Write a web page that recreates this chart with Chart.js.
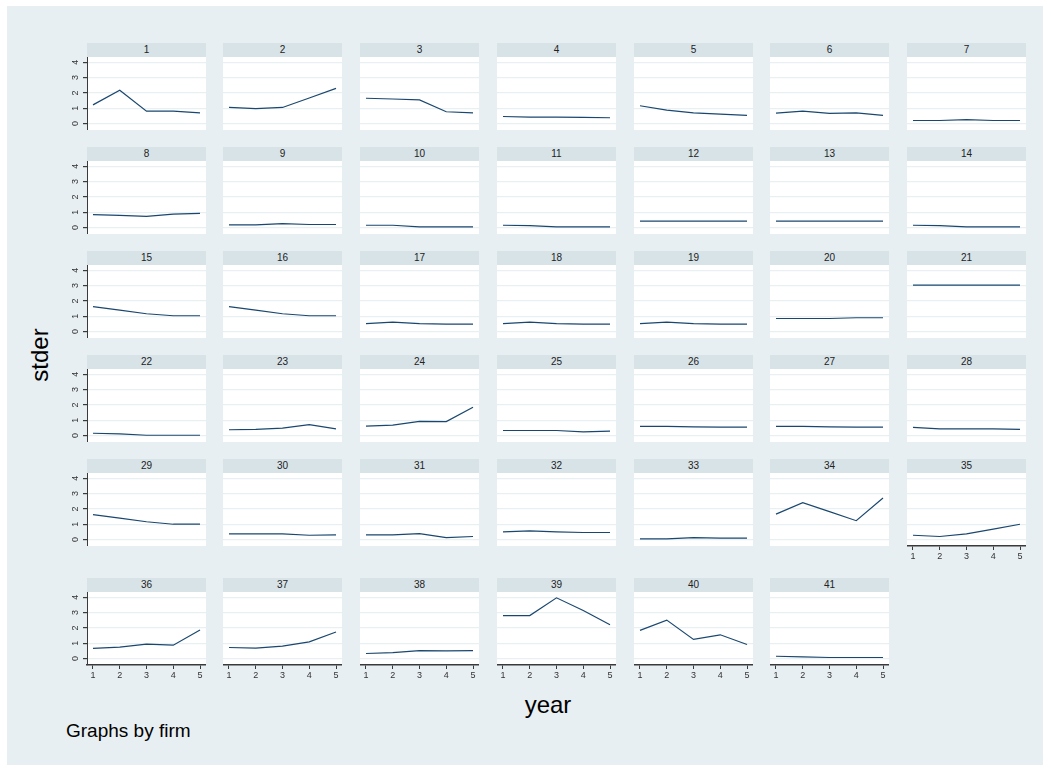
<!DOCTYPE html>
<html>
<head>
<meta charset="utf-8">
<script src="https://cdn.jsdelivr.net/npm/chart.js@4.4.1/dist/chart.umd.min.js"></script>
<style>
  body { margin: 0; background: #fff; font-family: "Liberation Sans", Arial, sans-serif; }
  #page { position: absolute; left: 0; top: 0; width: 1051px; height: 772px; background: #fff; }
  #frame { position: absolute; left: 7px; top: 6px; width: 1036px; height: 759px; background: #e8eff2; }
  .strip { position: absolute; height: 14px; line-height: 14px; background: #d8e3e8; text-align: center; font-size: 10px; color: #222; }
  canvas { position: absolute; }
  .ttl { position: absolute; color: #000; white-space: nowrap; }
</style>
</head>
<body>
<div id="page">
  <div id="frame"></div>
  <div class="ttl" id="ytitle" style="left:40px;top:355px;font-size:24px;transform:translate(-50%,-50%) rotate(-90deg);">stder</div>
  <div class="ttl" style="left:548px;top:705px;font-size:24px;transform:translate(-50%,-50%);">year</div>
  <div class="ttl" style="left:66px;top:731px;font-size:19px;transform:translate(0,-50%);">Graphs by firm</div>
</div>
<script>
(function () {
  "use strict";

  // ─── Data ──────────────────────────────────────────────────────────────────

  const years = [1, 2, 3, 4, 5];
  const xTicks = [1, 2, 3, 4, 5];
  const yTicks = [0, 1, 2, 3, 4];
  const firms = [
    "1", "2", "3", "4", "5", "6", "7", "8", "9", "10", "11", "12", "13", "14",
    "15", "16", "17", "18", "19", "20", "21", "22", "23", "24", "25", "26", "27", "28",
    "29", "30", "31", "32", "33", "34", "35", "36", "37", "38", "39", "40", "41"
  ];
  // stder by firm, years 1..5
  const stder = [
    [1.22, 2.17, 0.81, 0.81, 0.70],
    [1.05, 0.97, 1.05, 1.67, 2.29],
    [1.65, 1.60, 1.54, 0.77, 0.70],
    [0.46, 0.42, 0.42, 0.40, 0.38],
    [1.16, 0.88, 0.70, 0.62, 0.53],
    [0.68, 0.81, 0.66, 0.70, 0.53],
    [0.20, 0.20, 0.26, 0.20, 0.20],
    [0.84, 0.79, 0.73, 0.88, 0.92],
    [0.18, 0.18, 0.26, 0.20, 0.20],
    [0.15, 0.15, 0.04, 0.04, 0.04],
    [0.15, 0.13, 0.04, 0.04, 0.04],
    [0.42, 0.42, 0.42, 0.42, 0.42],
    [0.42, 0.42, 0.42, 0.42, 0.42],
    [0.15, 0.13, 0.04, 0.04, 0.04],
    [1.62, 1.40, 1.16, 1.03, 1.03],
    [1.62, 1.40, 1.16, 1.03, 1.03],
    [0.52, 0.61, 0.52, 0.48, 0.48],
    [0.52, 0.61, 0.52, 0.48, 0.48],
    [0.52, 0.61, 0.52, 0.48, 0.48],
    [0.85, 0.85, 0.85, 0.90, 0.90],
    [3.03, 3.03, 3.03, 3.03, 3.03],
    [0.15, 0.11, 0.02, 0.02, 0.02],
    [0.38, 0.40, 0.49, 0.71, 0.44],
    [0.62, 0.68, 0.93, 0.91, 1.85],
    [0.33, 0.33, 0.33, 0.24, 0.29],
    [0.60, 0.60, 0.57, 0.55, 0.55],
    [0.60, 0.60, 0.57, 0.55, 0.55],
    [0.53, 0.44, 0.44, 0.44, 0.40],
    [1.62, 1.40, 1.16, 1.00, 1.00],
    [0.37, 0.37, 0.37, 0.28, 0.31],
    [0.31, 0.31, 0.39, 0.13, 0.20],
    [0.50, 0.57, 0.50, 0.46, 0.46],
    [0.04, 0.04, 0.13, 0.09, 0.09],
    [1.66, 2.41, 1.82, 1.23, 2.71],
    [0.28, 0.20, 0.37, 0.68, 1.00],
    [0.66, 0.74, 0.94, 0.87, 1.86],
    [0.72, 0.68, 0.81, 1.09, 1.73],
    [0.33, 0.39, 0.52, 0.50, 0.52],
    [2.80, 2.80, 3.96, 3.13, 2.21],
    [1.84, 2.51, 1.25, 1.55, 0.92],
    [0.15, 0.11, 0.07, 0.07, 0.07]
  ];

  // ─── Layout ────────────────────────────────────────────────────────────────

  const COLS = 7;
  const PLOT_W = 119;
  const PLOT_H = 73;
  const STRIP_H = 14;
  const Y_AXIS_W = 22;
  const X_AXIS_H = 20;
  const stripTops = [43, 147, 251, 355, 459, 578];
  const colLeft = (c) => Math.round(86.7 + c * 136.7);

  const LINE = "#1a476f";
  const GRID = "#e8f0f2";
  const AXIS = "#3a3a3a";
  const FONT = '"Liberation Sans", Arial, sans-serif';

  // ─── Plugins ───────────────────────────────────────────────────────────────

  const plotBg = {
    id: "plotBg",
    beforeDraw(chart) {
      const { ctx, chartArea: a } = chart;
      ctx.save();
      ctx.fillStyle = "#fff";
      ctx.fillRect(a.left, a.top, a.right - a.left, a.bottom - a.top);
      ctx.restore();
    },
  };

  // y tick labels, turned on their side like the reference
  const sideLabels = {
    id: "sideLabels",
    afterDraw(chart, args, opts) {
      if (!opts.show) return;
      const s = chart.scales.y;
      const ctx = chart.ctx;
      ctx.save();
      ctx.font = "9px " + FONT;
      ctx.fillStyle = "#333";
      ctx.textAlign = "center";
      ctx.textBaseline = "middle";
      s.ticks.forEach((t) => {
        ctx.save();
        ctx.translate(s.right - 11, s.getPixelForValue(t.value));
        ctx.rotate(-Math.PI / 2);
        ctx.fillText(String(t.value), 0, 0);
        ctx.restore();
      });
      ctx.restore();
    },
  };

  // ─── Panels ────────────────────────────────────────────────────────────────

  const page = document.getElementById("page");

  firms.forEach((firm, i) => {
    const r = Math.floor(i / COLS);
    const c = i % COLS;
    const left = colLeft(c);
    const top = stripTops[r];
    const showY = c === 0;
    const showX = r === stripTops.length - 1 || i + COLS >= firms.length;

    const strip = document.createElement("div");
    strip.className = "strip";
    strip.style.left = left + "px";
    strip.style.top = top + "px";
    strip.style.width = PLOT_W + "px";
    strip.textContent = firm;
    page.appendChild(strip);

    const cv = document.createElement("canvas");
    const w = PLOT_W + (showY ? Y_AXIS_W : 0);
    const h = PLOT_H + (showX ? X_AXIS_H : 0);
    cv.width = w;
    cv.height = h;
    cv.style.width = w + "px";
    cv.style.height = h + "px";
    cv.style.left = left - (showY ? Y_AXIS_W : 0) + "px";
    cv.style.top = top + STRIP_H + "px";
    page.appendChild(cv);

    new Chart(cv, {
      type: "line",
      data: {
        datasets: [
          {
            data: years.map((yr, k) => ({ x: yr, y: stder[i][k] })),
            borderColor: LINE,
            borderWidth: 1.2,
            pointRadius: 0,
            tension: 0,
          },
        ],
      },
      plugins: [plotBg, sideLabels],
      options: {
        responsive: false,
        animation: false,
        devicePixelRatio: 1,
        layout: { padding: 0 },
        plugins: {
          legend: { display: false },
          tooltip: { enabled: false },
          sideLabels: { show: showY },
        },
        scales: {
          x: {
            type: "linear",
            display: showX,
            min: 0.776,
            max: 5.224,
            afterBuildTicks: (s) => { s.ticks = xTicks.map((v) => ({ value: v })); },
            afterFit: (s) => { s.height = showX ? X_AXIS_H : 0; },
            border: { display: true, color: AXIS, width: 1.5 },
            grid: { drawOnChartArea: false, drawTicks: true, tickLength: 4, tickColor: AXIS },
            ticks: { autoSkip: false, maxRotation: 0, padding: 1, color: "#333", font: { family: FONT, size: 9 } },
          },
          y: {
            type: "linear",
            min: -0.42,
            max: 4.34,
            afterBuildTicks: (s) => { s.ticks = yTicks.map((v) => ({ value: v })); },
            afterFit: (s) => { s.width = showY ? Y_AXIS_W : 0; },
            border: { display: showY, color: AXIS, width: 1 },
            grid: { color: GRID, lineWidth: 1.2, drawTicks: showY, tickLength: 4, tickColor: AXIS },
            ticks: { display: false },
          },
        },
      },
    });
  });
})();
</script>
</body>
</html>
